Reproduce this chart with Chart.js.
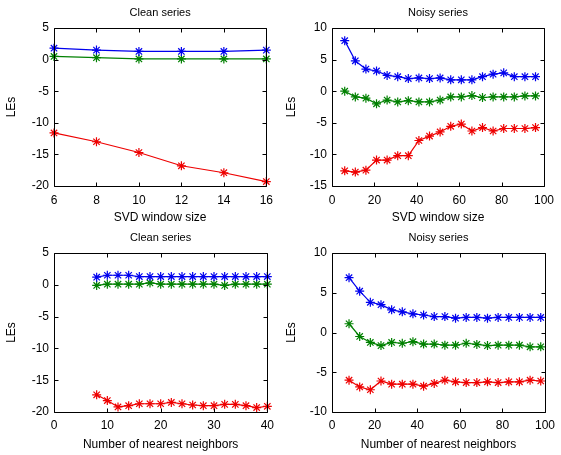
<!DOCTYPE html>
<html>
<head>
<meta charset="utf-8">
<script src="https://cdn.jsdelivr.net/npm/chart.js@4"></script>
<style>
body { margin: 0; background: #fff; width: 561px; height: 455px; position: relative; overflow: hidden; }
canvas { position: absolute; }
</style>
</head>
<body>
<canvas id="c1" width="280" height="226" style="left:0;top:0"></canvas>
<canvas id="c2" width="281" height="226" style="left:280px;top:0"></canvas>
<canvas id="c3" width="280" height="229" style="left:0;top:226px"></canvas>
<canvas id="c4" width="281" height="229" style="left:280px;top:226px"></canvas>
<script>
// top-left: clean series vs SVD window size
const svdCleanX = [6, 8, 10, 12, 14, 16];
const svdCleanBlue = [1.8, 1.5, 1.3, 1.3, 1.3, 1.5];
const svdCleanGreen = [0.5, 0.3, 0.1, 0.1, 0.1, 0.1];
const svdCleanRed = [-11.6, -13.0, -14.7, -16.8, -17.9, -19.3];
const svdCleanXTicks = [6, 8, 10, 12, 14, 16];
const svdCleanYTicks = [-20, -15, -10, -5, 0, 5];

// top-right: noisy series vs SVD window size
const svdNoisyX = [6, 11, 16, 21, 26, 31, 36, 41, 46, 51, 56, 61, 66, 71, 76, 81, 86, 91, 96];
const svdNoisyBlue = [8.0, 4.8, 3.5, 3.2, 2.5, 2.3, 2.0, 2.1, 2.0, 2.1, 1.8, 1.8, 1.8, 2.3, 2.7, 2.9, 2.3, 2.3, 2.3];
const svdNoisyGreen = [0, -0.9, -1.1, -2.0, -1.4, -1.7, -1.5, -1.7, -1.7, -1.4, -0.9, -0.9, -0.7, -1.0, -0.9, -0.9, -0.9, -0.75, -0.75];
const svdNoisyRed = [-12.6, -12.8, -12.5, -10.9, -10.9, -10.2, -10.2, -7.8, -7.1, -6.45, -5.55, -5.2, -6.3, -5.75, -6.3, -5.9, -5.9, -5.9, -5.75];
const svdNoisyXTicks = [0, 20, 40, 60, 80, 100];
const svdNoisyYTicks = [-15, -10, -5, 0, 5, 10];

// bottom-left: clean series vs number of nearest neighbors
const nnCleanX = [8, 10, 12, 14, 16, 18, 20, 22, 24, 26, 28, 30, 32, 34, 36, 38, 40];
const nnCleanBlue = [1.2, 1.5, 1.5, 1.5, 1.3, 1.3, 1.3, 1.3, 1.3, 1.3, 1.3, 1.3, 1.3, 1.3, 1.3, 1.3, 1.3];
const nnCleanGreen = [-0.1, 0.1, 0.1, 0.1, 0.1, 0.3, 0.1, 0.1, 0.1, 0.1, 0.1, 0.1, -0.1, 0.1, 0.1, 0.1, 0.1];
const nnCleanRed = [-17.3, -18.2, -19.2, -19.0, -18.7, -18.7, -18.7, -18.5, -18.7, -18.9, -19.0, -19.0, -18.8, -18.8, -19.0, -19.3, -19.1];
const nnCleanXTicks = [0, 10, 20, 30, 40];
const nnCleanYTicks = [-20, -15, -10, -5, 0, 5];

// bottom-right: noisy series vs number of nearest neighbors
const nnNoisyX = [8, 13, 18, 23, 28, 33, 38, 43, 48, 53, 58, 63, 68, 73, 78, 83, 88, 93, 98];
const nnNoisyBlue = [6.9, 5.2, 3.8, 3.5, 2.85, 2.6, 2.35, 2.2, 2.0, 2.0, 1.8, 1.9, 1.9, 1.8, 1.9, 1.9, 1.9, 1.9, 1.9];
const nnNoisyGreen = [1.1, -0.5, -1.25, -1.65, -1.25, -1.35, -1.15, -1.45, -1.45, -1.6, -1.6, -1.35, -1.5, -1.65, -1.6, -1.6, -1.6, -1.8, -1.8];
const nnNoisyRed = [-6.0, -6.85, -7.2, -6.1, -6.5, -6.5, -6.5, -6.75, -6.4, -6.0, -6.2, -6.3, -6.3, -6.2, -6.3, -6.2, -6.2, -6.0, -6.1];
const nnNoisyXTicks = [0, 20, 40, 60, 80, 100];
const nnNoisyYTicks = [-10, -5, 0, 5, 10];

const FONT = '"Liberation Sans", Arial, Helvetica, sans-serif';

// matlab style box with inward ticks on all four sides
const boxTicks = {
    id: 'boxTicks',
    afterDraw(chart) {
        const { ctx, chartArea: a, scales: { x, y } } = chart;
        const L = Math.round(a.left) + 0.5, R = Math.round(a.right) + 0.5;
        const T = Math.round(a.top) + 0.5, B = Math.round(a.bottom) + 0.5;
        ctx.save();
        ctx.strokeStyle = '#000';
        ctx.lineWidth = 1;
        ctx.beginPath();
        ctx.rect(L, T, R - L, B - T);
        x.ticks.forEach(t => {
            const px = Math.round(x.getPixelForValue(t.value)) + 0.5;
            ctx.moveTo(px, B); ctx.lineTo(px, B - 4);
            ctx.moveTo(px, T); ctx.lineTo(px, T + 4);
        });
        y.ticks.forEach(t => {
            const py = Math.round(y.getPixelForValue(t.value)) + 0.5;
            ctx.moveTo(L, py); ctx.lineTo(L + 4, py);
            ctx.moveTo(R, py); ctx.lineTo(R - 4, py);
        });
        ctx.stroke();
        ctx.restore();
    }
};

function series(xs, ys, color) {
    return {
        data: xs.map((x, i) => ({ x: x, y: ys[i] })),
        borderColor: color,
        backgroundColor: color,
        borderWidth: 1.2,
        pointStyle: 'star',
        pointRadius: 4.5,
        pointBorderWidth: 1.2,
        pointBorderColor: color,
        clip: false,
        tension: 0
    };
}

function makeChart(id, p) {
    new Chart(document.getElementById(id), {
        type: 'line',
        data: {
            datasets: [
                series(p.x, p.blue, '#0000ee'),
                series(p.x, p.green, '#008000'),
                series(p.x, p.red, '#ee0000')
            ]
        },
        options: {
            responsive: false,
            animation: false,
            events: [],
            layout: { autoPadding: false, padding: { left: 0, right: p.padRight, top: 0, bottom: 0 } },
            plugins: {
                legend: { display: false },
                tooltip: { enabled: false },
                title: {
                    display: true,
                    fullSize: false,
                    text: p.title,
                    color: '#000',
                    font: { family: FONT, size: 11, weight: 'normal' },
                    padding: { top: p.titleTop, bottom: p.titleBottom }
                }
            },
            scales: {
                x: {
                    type: 'linear',
                    min: p.xTicks[0],
                    max: p.xTicks[p.xTicks.length - 1],
                    afterBuildTicks: s => { s.ticks = p.xTicks.map(v => ({ value: v })); },
                    afterFit: s => { s.height = p.xAxisH; },
                    grid: { display: false, drawTicks: false },
                    border: { display: false },
                    ticks: { color: '#000', padding: p.xTickPad, maxRotation: 0, font: { family: FONT, size: 12 } },
                    title: {
                        display: true,
                        text: p.xLabel,
                        color: '#000',
                        font: { family: FONT, size: 12 },
                        padding: { top: 0, bottom: p.xTitlePad }
                    }
                },
                y: {
                    type: 'linear',
                    min: p.yTicks[0],
                    max: p.yTicks[p.yTicks.length - 1],
                    afterBuildTicks: s => { s.ticks = p.yTicks.map(v => ({ value: v })); },
                    afterFit: s => { s.width = p.yAxisW; },
                    grid: { display: false, drawTicks: false },
                    border: { display: false },
                    ticks: { color: '#000', padding: 5, font: { family: FONT, size: 12 } },
                    title: {
                        display: true,
                        text: 'LEs',
                        color: '#000',
                        font: { family: FONT, size: 12 },
                        padding: { top: 4.5, bottom: 0 }
                    }
                }
            }
        },
        plugins: [boxTicks]
    });
}

makeChart('c1', {
    title: 'Clean series', xLabel: 'SVD window size',
    x: svdCleanX, blue: svdCleanBlue, green: svdCleanGreen, red: svdCleanRed,
    xTicks: svdCleanXTicks, yTicks: svdCleanYTicks,
    yAxisW: 54, xAxisH: 40, padRight: 11, titleTop: 6, titleBottom: 8.8, xTickPad: 7, xTitlePad: 0.8
});
makeChart('c2', {
    title: 'Noisy series', xLabel: 'SVD window size',
    x: svdNoisyX, blue: svdNoisyBlue, green: svdNoisyGreen, red: svdNoisyRed,
    xTicks: svdNoisyXTicks, yTicks: svdNoisyYTicks,
    yAxisW: 52, xAxisH: 40, padRight: 13, titleTop: 6, titleBottom: 8.8, xTickPad: 7, xTitlePad: 0.8
});
makeChart('c3', {
    title: 'Clean series', xLabel: 'Number of nearest neighbors',
    x: nnCleanX, blue: nnCleanBlue, green: nnCleanGreen, red: nnCleanRed,
    xTicks: nnCleanXTicks, yTicks: nnCleanYTicks,
    yAxisW: 54, xAxisH: 43, padRight: 11, titleTop: 5.4, titleBottom: 8.4, xTickPad: 6, xTitlePad: 2.8
});
makeChart('c4', {
    title: 'Noisy series', xLabel: 'Number of nearest neighbors',
    x: nnNoisyX, blue: nnNoisyBlue, green: nnNoisyGreen, red: nnNoisyRed,
    xTicks: nnNoisyXTicks, yTicks: nnNoisyYTicks,
    yAxisW: 52, xAxisH: 43, padRight: 13, titleTop: 5.4, titleBottom: 8.4, xTickPad: 6, xTitlePad: 2.8
});
</script>
</body>
</html>
